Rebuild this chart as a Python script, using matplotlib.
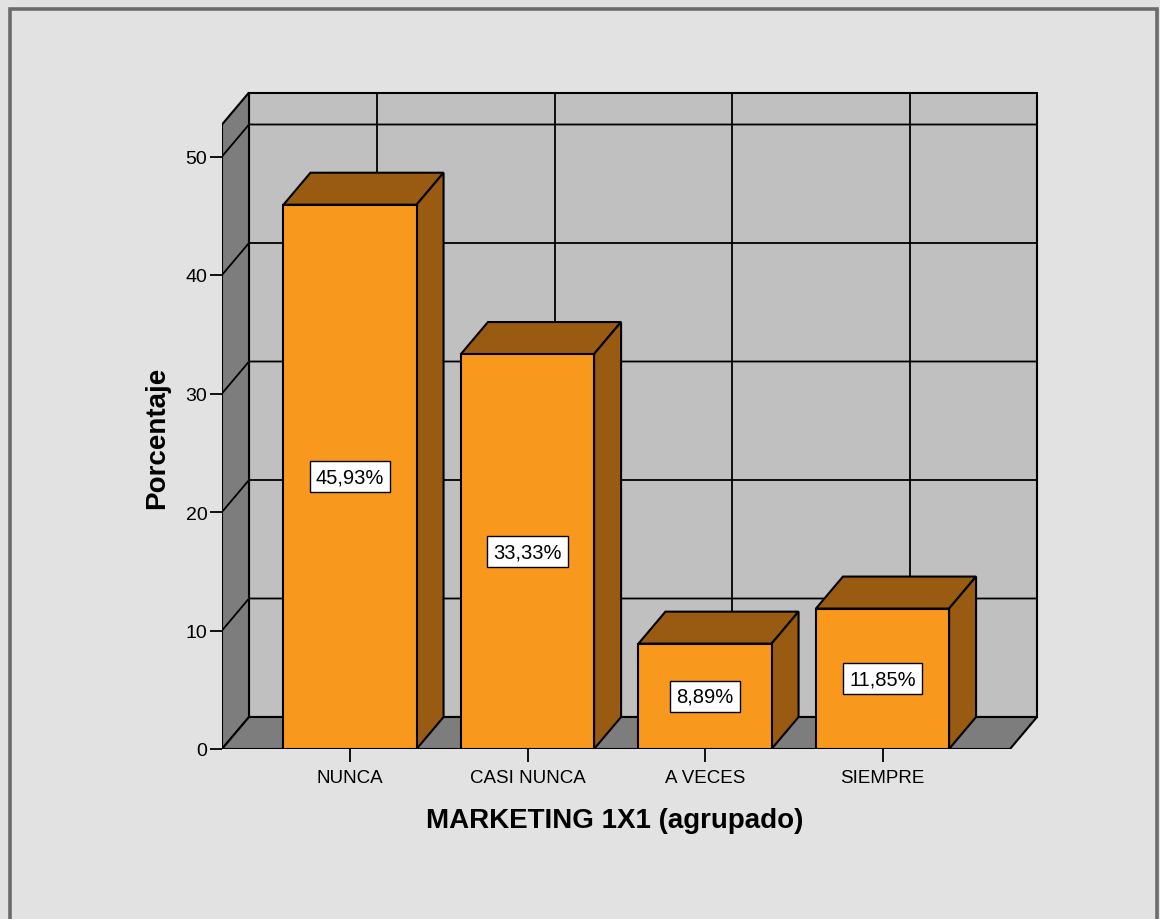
import matplotlib.pyplot as plt
from matplotlib.patches import Polygon, Rectangle

categories = ["NUNCA", "CASI NUNCA", "A VECES", "SIEMPRE"]
percentages = [45.93, 33.33, 8.89, 11.85]
y_ticks = [0, 10, 20, 30, 40, 50]
wall_top = 52.7

plt.rcParams['font.family'] = ['Liberation Sans', 'DejaVu Sans']

W, H = 1160, 920
BG = "#e2e2e2"
ORANGE = "#f8991d"
BROWN = "#995a12"
WALL = "#c0c0c0"
DARK = "#7d7d7d"

fig = plt.figure(figsize=(W / 100, H / 100), dpi=100, facecolor=BG)
# outer frame (bottom edge runs off the image)
fig.patches.append(Rectangle((10 / W, -0.1), 1147 / W, (H - 10) / H + 0.1,
                             transform=fig.transFigure, fill=False,
                             edgecolor="#6b6b6b", lw=2.6))

# layout in pixels -> data units
left_px, right_px, base_px, top_px = 222, 1040, 750, 90
cat_px, pct_px, first_px, floor_right_px = 177.5, 11.85, 350, 1010
ax = fig.add_axes([left_px / W, (H - base_px) / H,
                   (right_px - left_px) / W, (base_px - top_px) / H])
ax.set_facecolor("none")
x0 = -(first_px - left_px) / cat_px
x1 = x0 + (floor_right_px - left_px) / cat_px
ax.set_xlim(x0, x0 + (right_px - left_px) / cat_px)
ax.set_ylim(0, (base_px - top_px) / pct_px)
dx = 27 / cat_px
dy = 32 / pct_px
lw = 1.5

# back wall, left wall, floor
ax.add_patch(Rectangle((x0 + dx, dy), x1 - x0, wall_top, fc=WALL, ec="black", lw=lw, zorder=1))
ax.add_patch(Polygon([(x0, 0), (x0, wall_top), (x0 + dx, wall_top + dy), (x0 + dx, dy)],
                     closed=True, fc=DARK, ec="black", lw=lw, zorder=1))
ax.add_patch(Polygon([(x0, 0), (x1, 0), (x1 + dx, dy), (x0 + dx, dy)],
                     closed=True, fc=DARK, ec="black", lw=lw, zorder=1))

# grid lines on the walls
for v in y_ticks[1:]:
    ax.plot([x0, x0 + dx, x1 + dx], [v, v + dy, v + dy], color="black", lw=1.3, zorder=2)
for i in range(len(categories)):
    ax.plot([i + dx, i + dx], [dy, wall_top + dy], color="black", lw=1.3, zorder=2)

# 3d bars
w = 0.75
for i, v in enumerate(percentages):
    l, r = i - w / 2, i + w / 2
    ax.add_patch(Polygon([(l, v), (r, v), (r + dx, v + dy), (l + dx, v + dy)],
                         closed=True, fc=BROWN, ec="black", lw=lw, zorder=3))
    ax.add_patch(Polygon([(r, 0), (r, v), (r + dx, v + dy), (r + dx, dy)],
                         closed=True, fc=BROWN, ec="black", lw=lw, zorder=3))
    ax.add_patch(Rectangle((l, 0), w, v, fc=ORANGE, ec="black", lw=lw, zorder=4))
    label = f"{v:.2f}%".replace(".", ",")
    ax.text(i, v / 2, label, ha="center", va="center", fontsize=14.5, zorder=5,
            bbox=dict(boxstyle="square,pad=0.3", fc="white", ec="black", lw=1))

ax.set_yticks(y_ticks)
ax.set_xticks(range(len(categories)), categories)
for s in ax.spines.values():
    s.set_visible(False)
ax.tick_params(axis="y", length=8.6, width=1.3, pad=2, labelsize=14, colors="black")
ax.tick_params(axis="x", length=9.4, width=1.3, pad=5, labelsize=13.5, colors="black")

fig.text(157 / W, 1 - 438 / H, "Porcentaje", rotation=90, fontsize=20,
         fontweight="bold", ha="center", va="center")
fig.text(615 / W, 1 - 828 / H, "MARKETING 1X1 (agrupado)", fontsize=20,
         fontweight="bold", ha="center", va="baseline")

fig.savefig("out.png", dpi=100, facecolor=BG)
